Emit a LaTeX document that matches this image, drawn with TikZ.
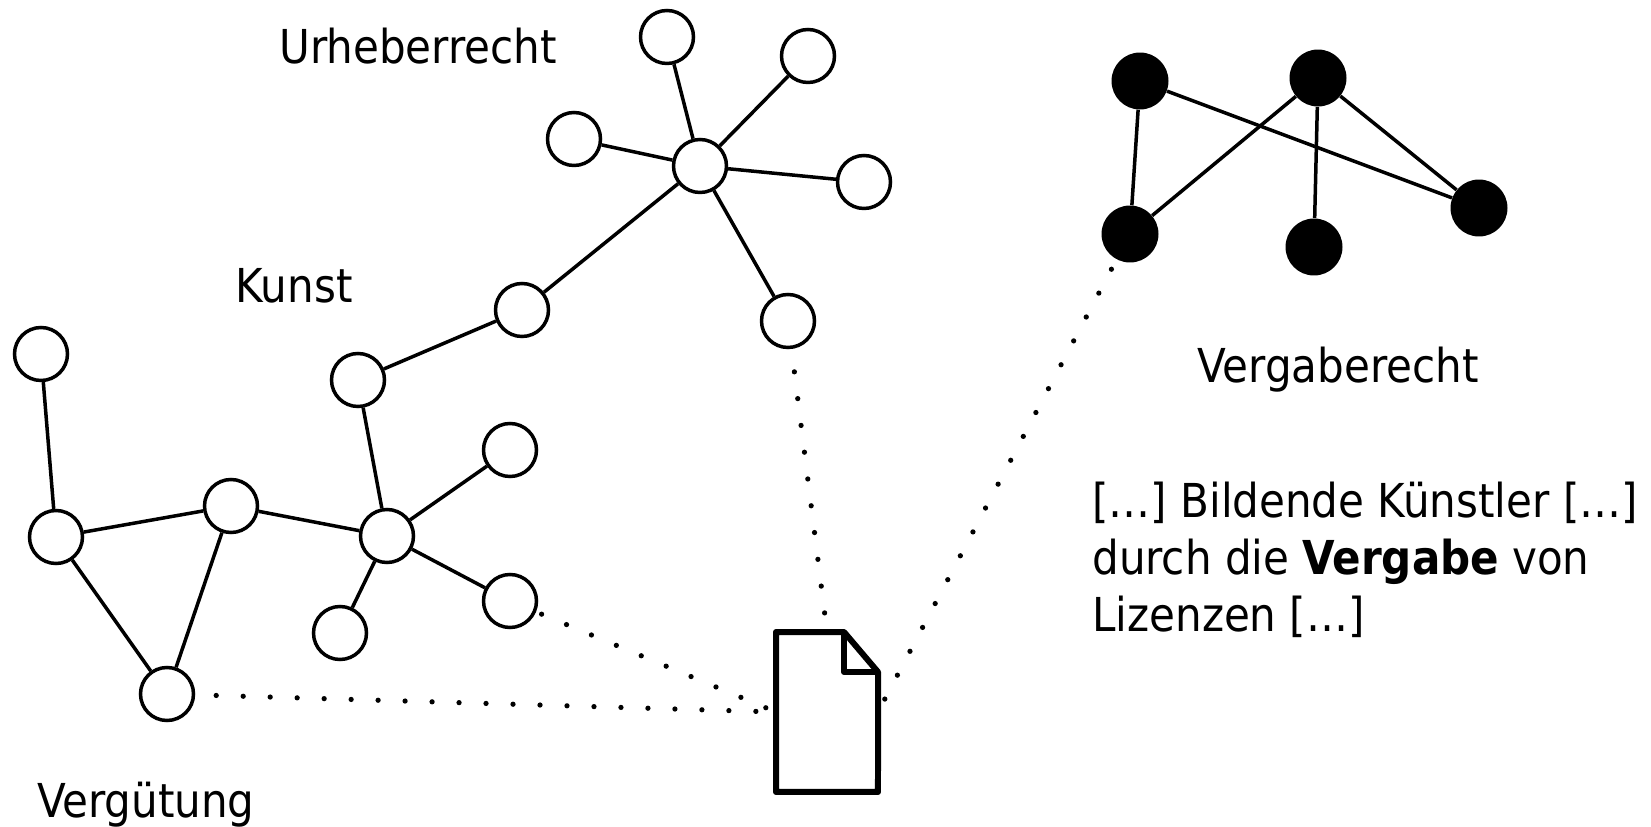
\documentclass[tikz,border=0pt]{standalone}
\usepackage{fontspec}
\setmainfont{DejaVu Sans Condensed}
\usepackage{tikz}
\usetikzlibrary{shapes,arrows}
\tikzstyle{open} = [circle, draw, fill=white, line width=0.07cm, minimum size=1.06cm, inner sep=0pt]
\tikzstyle{solid} = [circle, fill=black, minimum size=1.14cm, inner sep=0pt]
\tikzstyle{label} = [font=\fontsize{26.6}{32.2}\selectfont, inner sep=0pt]
\tikzstyle{line} = [draw, line width=0.07cm]
\tikzstyle{dots} = [draw, line width=0.105cm, line cap=round, dash pattern=on 0pt off 0.54cm]
\tikzstyle{sheet} = [draw, line width=0.12cm, line join=round]

\begin{document}
\begin{tikzpicture}[x=0.02cm, y=-0.02cm]
    \useasboundingbox (0,0) rectangle (1651,827);
    % Document anchor, drawn further down
    \node [inner sep=0pt, outer sep=0pt, minimum width=2.04cm, minimum height=3.2cm] (doc) at (827,712) {};
    % Place nodes
    \node [open] (urheber) at (700,166) {};
    \node [open] (urheberA) at (667,37) {};
    \node [open] (urheberB) at (808,56) {};
    \node [open] (urheberC) at (574,139) {};
    \node [open] (urheberD) at (864,182) {};
    \node [open] (urheberE) at (788,321) {};
    \node [open] (kunstA) at (522,310) {};
    \node [open] (kunstB) at (358,380) {};
    \node [open] (kunst) at (387,536) {};
    \node [open] (kunstC) at (510,450) {};
    \node [open] (kunstD) at (510,601) {};
    \node [open] (kunstE) at (340,633) {};
    \node [open] (verguetA) at (231,506) {};
    \node [open] (verguetB) at (56,537) {};
    \node [open] (verguetC) at (41,354) {};
    \node [open] (verguetD) at (167,694) {};
    \node [solid] (vergabeA) at (1140,81) {};
    \node [solid] (vergabeB) at (1318,78) {};
    \node [solid] (vergabeC) at (1479,208) {};
    \node [solid] (vergabeD) at (1130,234) {};
    \node [solid] (vergabeE) at (1314,247) {};
    % Labels
    \node [label] (urheberText) at (418,46) {Urheberrecht};
    \node [label] (kunstText) at (294,286) {Kunst};
    \node [label] (vergabeText) at (1338,370) {Vergaberecht};
    \node [label] (verguetText) at (146,805) {Vergütung};
    \node [label, anchor=north west, align=left] (snippet) at (1092,482) {[…] Bildende Künstler […]\\durch die \textbf{Vergabe} von\\Lizenzen […]};
    % Draw edges
    \path [line] (urheber) -- (urheberA);
    \path [line] (urheber) -- (urheberB);
    \path [line] (urheber) -- (urheberC);
    \path [line] (urheber) -- (urheberD);
    \path [line] (urheber) -- (urheberE);
    \path [line] (urheber) -- (kunstA);
    \path [line] (kunstA) -- (kunstB);
    \path [line] (kunstB) -- (kunst);
    \path [line] (kunst) -- (kunstC);
    \path [line] (kunst) -- (kunstD);
    \path [line] (kunst) -- (kunstE);
    \path [line] (kunst) -- (verguetA);
    \path [line] (verguetA) -- (verguetB);
    \path [line] (verguetA) -- (verguetD);
    \path [line] (verguetB) -- (verguetC);
    \path [line] (verguetB) -- (verguetD);
    \path [line] (vergabeA) -- (vergabeD);
    \path [line] (vergabeA) -- (vergabeC);
    \path [line] (vergabeB) -- (vergabeD);
    \path [line] (vergabeB) -- (vergabeE);
    \path [line] (vergabeB) -- (vergabeC);
    % Dotted links to the document
    \path [dots, shorten <=0.42cm] (verguetD) -- (doc.west);
    \path [dots, shorten <=0.12cm] (kunstD) -- (doc.west);
    \path [dots, shorten <=0.46cm] (urheberE) -- (doc.north);
    \path [dots, shorten <=0.22cm] (vergabeD) -- (doc.east);
    % Document icon
    \path [sheet] (doc.south west) -- (doc.north west) -- ++(68,0) -- ++(34,40) -- (doc.south east) -- cycle;
    \path [sheet] (doc.north west) ++(68,0) -- ++(0,40) -- ++(34,0);
\end{tikzpicture}
\end{document}
